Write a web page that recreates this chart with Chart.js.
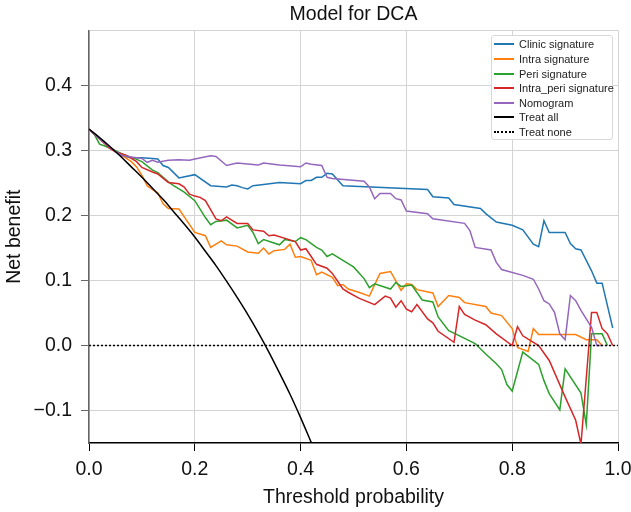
<!DOCTYPE html>
<html>
<head>
<meta charset="utf-8">
<script src="https://cdn.jsdelivr.net/npm/chart.js@4.4.0/dist/chart.umd.min.js"></script>
<style>
  html, body { margin: 0; padding: 0; background: #fff; }
  #wrap { position: relative; width: 631px; height: 512px; }
  #legend {
    position: absolute; left: 491px; top: 35px; width: 122px; height: 105px;
    box-sizing: border-box; border: 1px solid #d8d8d8; border-radius: 3px;
    background: #fff; font: 11px "Liberation Sans", Arial, sans-serif; color: #222;
  }
  .row { position: absolute; left: 0; height: 14px; line-height: 14px; white-space: nowrap; }
  .swatch { position: absolute; left: 2px; top: 6px; width: 20px; height: 0; border-top: 2px solid #000; }
  .label { position: absolute; left: 27px; top: 0; }
</style>
</head>
<body>
<div id="wrap">
  <canvas id="chart" width="631" height="512"></canvas>
  <div id="legend"></div>
</div>
<script>
// 閾値と正味便益 [threshold, net benefit]
const clinic = [[0,0.333],[0.02,0.318],[0.04,0.304],[0.06,0.292],[0.08,0.289],[0.10,0.289],[0.12,0.288],[0.13,0.287],[0.14,0.277],[0.15,0.274],[0.17,0.258],[0.20,0.263],[0.23,0.246],[0.26,0.244],[0.27,0.247],[0.28,0.246],[0.29,0.243],[0.30,0.241],[0.31,0.246],[0.33,0.248],[0.36,0.251],[0.40,0.249],[0.41,0.254],[0.42,0.254],[0.43,0.259],[0.44,0.259],[0.45,0.265],[0.46,0.264],[0.48,0.246],[0.64,0.240],[0.65,0.229],[0.68,0.227],[0.69,0.217],[0.74,0.211],[0.75,0.203],[0.77,0.190],[0.80,0.185],[0.82,0.178],[0.84,0.156],[0.85,0.152],[0.86,0.192],[0.87,0.174],[0.90,0.174],[0.91,0.157],[0.92,0.149],[0.93,0.147],[0.95,0.115],[0.96,0.096],[0.97,0.096],[0.99,0.027]];
const intra = [[0,0.333],[0.02,0.318],[0.04,0.305],[0.06,0.294],[0.08,0.283],[0.09,0.275],[0.10,0.262],[0.11,0.246],[0.12,0.240],[0.13,0.235],[0.14,0.218],[0.15,0.211],[0.17,0.210],[0.19,0.186],[0.20,0.174],[0.22,0.169],[0.23,0.151],[0.25,0.161],[0.26,0.155],[0.28,0.153],[0.30,0.144],[0.32,0.142],[0.33,0.150],[0.34,0.141],[0.35,0.146],[0.37,0.148],[0.38,0.156],[0.39,0.136],[0.40,0.137],[0.42,0.131],[0.43,0.109],[0.44,0.113],[0.46,0.105],[0.47,0.092],[0.48,0.094],[0.49,0.087],[0.51,0.082],[0.53,0.076],[0.55,0.111],[0.57,0.114],[0.59,0.085],[0.60,0.095],[0.61,0.094],[0.62,0.086],[0.65,0.081],[0.66,0.060],[0.68,0.077],[0.70,0.074],[0.71,0.066],[0.75,0.060],[0.76,0.050],[0.78,0.046],[0.80,0.026],[0.81,-0.003],[0.83,-0.009],[0.84,0.026],[0.85,0.017],[0.92,0.017],[0.94,0.009],[0.96,0.009],[0.97,0]];
const peri = [[0,0.333],[0.01,0.325],[0.02,0.310],[0.03,0.307],[0.05,0.300],[0.07,0.292],[0.08,0.290],[0.10,0.283],[0.12,0.270],[0.13,0.266],[0.15,0.252],[0.16,0.246],[0.18,0.236],[0.20,0.223],[0.21,0.210],[0.22,0.197],[0.23,0.186],[0.24,0.191],[0.26,0.193],[0.28,0.181],[0.30,0.185],[0.31,0.174],[0.32,0.157],[0.33,0.163],[0.36,0.155],[0.37,0.163],[0.39,0.160],[0.40,0.166],[0.41,0.163],[0.43,0.151],[0.44,0.147],[0.45,0.137],[0.46,0.141],[0.47,0.136],[0.49,0.126],[0.50,0.121],[0.52,0.103],[0.53,0.089],[0.54,0.095],[0.57,0.087],[0.58,0.097],[0.59,0.091],[0.61,0.093],[0.63,0.070],[0.65,0.067],[0.66,0.044],[0.68,0.023],[0.69,0.019],[0.73,0.003],[0.75,-0.013],[0.77,-0.028],[0.78,-0.037],[0.79,-0.060],[0.80,-0.070],[0.82,-0.010],[0.85,-0.029],[0.86,-0.054],[0.87,-0.074],[0.89,-0.099],[0.90,-0.036],[0.93,-0.073],[0.94,-0.122],[0.95,0.018],[0.97,0.018],[0.98,0]];
const intraPeri = [[0,0.333],[0.02,0.318],[0.04,0.303],[0.05,0.298],[0.07,0.293],[0.08,0.288],[0.09,0.283],[0.10,0.274],[0.12,0.267],[0.13,0.264],[0.15,0.251],[0.17,0.249],[0.18,0.244],[0.19,0.233],[0.20,0.230],[0.21,0.228],[0.22,0.223],[0.24,0.195],[0.25,0.192],[0.26,0.198],[0.28,0.188],[0.30,0.188],[0.31,0.178],[0.33,0.176],[0.34,0.169],[0.35,0.170],[0.39,0.160],[0.40,0.147],[0.41,0.149],[0.42,0.137],[0.43,0.125],[0.45,0.119],[0.46,0.111],[0.47,0.099],[0.48,0.087],[0.49,0.082],[0.51,0.073],[0.54,0.063],[0.56,0.076],[0.57,0.073],[0.58,0.059],[0.59,0.069],[0.60,0.056],[0.61,0.052],[0.62,0.063],[0.64,0.041],[0.65,0.035],[0.66,0.022],[0.69,0.005],[0.70,0.060],[0.71,0.048],[0.73,0.039],[0.75,0.032],[0.77,0.018],[0.80,0],[0.81,0.029],[0.82,0.015],[0.85,0],[0.87,-0.023],[0.90,-0.079],[0.92,-0.115],[0.93,-0.152],[0.95,0.051],[0.96,0.051],[0.97,0.026],[0.98,0.018],[0.99,0]];
const nomogram = [[0,0.333],[0.02,0.318],[0.04,0.305],[0.06,0.293],[0.08,0.290],[0.10,0.288],[0.11,0.282],[0.12,0.285],[0.13,0.282],[0.15,0.285],[0.17,0.286],[0.19,0.285],[0.20,0.287],[0.23,0.292],[0.24,0.291],[0.26,0.277],[0.28,0.281],[0.32,0.278],[0.33,0.281],[0.36,0.278],[0.40,0.275],[0.41,0.281],[0.42,0.279],[0.44,0.277],[0.45,0.259],[0.46,0.257],[0.52,0.253],[0.53,0.244],[0.54,0.226],[0.55,0.234],[0.57,0.234],[0.58,0.226],[0.59,0.224],[0.60,0.207],[0.64,0.203],[0.65,0.195],[0.71,0.188],[0.72,0.177],[0.73,0.151],[0.76,0.147],[0.77,0.128],[0.78,0.117],[0.82,0.108],[0.84,0.102],[0.85,0.087],[0.86,0.069],[0.87,0.064],[0.88,0.051],[0.89,0.018],[0.90,0.009],[0.91,0.077],[0.92,0.069],[0.93,0.054],[0.94,0.041],[0.95,0.028],[0.96,0],[0.97,0]];
const treatAll = [[0,0.333],[0.02,0.320],[0.04,0.306],[0.06,0.291],[0.08,0.275],[0.10,0.259],[0.12,0.242],[0.14,0.225],[0.16,0.206],[0.18,0.187],[0.20,0.167],[0.22,0.145],[0.24,0.123],[0.26,0.099],[0.28,0.074],[0.30,0.048],[0.32,0.020],[0.34,-0.010],[0.36,-0.042],[0.38,-0.075],[0.40,-0.111],[0.42,-0.149]];
const treatNone = [[0,0],[1,0]];

const seriesNames = ['Clinic signature', 'Intra signature', 'Peri signature', 'Intra_peri signature', 'Nomogram', 'Treat all', 'Treat none'];
const seriesData = [clinic, intra, peri, intraPeri, nomogram, treatAll, treatNone];
const seriesColors = ['#1f77b4', '#ff7f0e', '#2ca02c', '#d62728', '#9467bd', '#000000', '#000000'];

const xTicks = [0, 0.2, 0.4, 0.6, 0.8, 1.0];
const yTicks = [-0.1, 0, 0.1, 0.2, 0.3, 0.4];
const X_MAX = 1.0;
const Y_MIN = -0.15;
const Y_MAX = 0.485;

const FONT = '"Liberation Sans", Arial, Helvetica, sans-serif';
const font = { family: FONT, size: 19.5, weight: 'normal' };

// データセット（後のものほど上に描く）
const datasets = seriesData.map((pts, i) => ({
  label: seriesNames[i],
  data: pts.map(p => ({ x: p[0], y: p[1] })),
  borderColor: seriesColors[i],
  borderWidth: 1.5,
  borderDash: seriesNames[i] === 'Treat none' ? [2, 2] : [],
  pointRadius: 0,
  tension: 0,
  cubicInterpolationMode: seriesNames[i] === 'Treat all' ? 'monotone' : 'default',
  fill: false,
  order: seriesData.length - i
}));

new Chart(document.getElementById('chart'), {
  type: 'line',
  data: { datasets },
  options: {
    responsive: false,
    animation: false,
    devicePixelRatio: 1,
    layout: { padding: { left: 0, right: 0, top: 0, bottom: 0 } },
    plugins: {
      legend: { display: false },
      tooltip: { enabled: false },
      title: {
        display: true, text: 'Model for DCA', fullSize: false, color: '#111',
        font: font, padding: { top: 3, bottom: 4 }
      }
    },
    scales: {
      x: {
        type: 'linear', min: 0, max: X_MAX,
        afterBuildTicks: s => { s.ticks = xTicks.map(v => ({ value: v })); },
        afterFit: s => { s.height = 69; s.paddingRight = 13; },
        ticks: { color: '#111', font: font, padding: 7, maxRotation: 0, callback: v => v.toFixed(1) },
        grid: { color: '#d4d4d4', lineWidth: 1, tickColor: '#000', tickLength: 8 },
        border: { color: '#000', width: 1.5 },
        title: { display: true, text: 'Threshold probability', color: '#111', font: font, padding: { top: 0, bottom: 3 } }
      },
      y: {
        type: 'linear', min: Y_MIN, max: Y_MAX,
        // 上端にも薄い線を引くため最大値を目盛りに加える
        afterBuildTicks: s => { s.ticks = yTicks.concat([Y_MAX]).map(v => ({ value: v })); },
        afterFit: s => { s.width = 89; },
        ticks: {
          color: '#111', font: font, padding: 9,
          callback: v => v === Y_MAX ? '' : (v < 0 ? '\u2212' : '') + Math.abs(v).toFixed(1)
        },
        grid: {
          color: '#d4d4d4', lineWidth: 1, tickLength: 8,
          tickColor: ctx => ctx.tick && ctx.tick.value === Y_MAX ? 'rgba(0,0,0,0)' : '#666'
        },
        border: { color: '#666', width: 1.5 },
        title: { display: true, text: 'Net benefit', color: '#111', font: font, padding: { top: 3, bottom: 0 } }
      }
    }
  }
});

// 凡例（右上の枠）
const legend = document.getElementById('legend');
seriesNames.forEach((name, i) => {
  const row = document.createElement('div');
  row.className = 'row';
  row.style.top = (1.3 + i * 14.6) + 'px';
  const sw = document.createElement('span');
  sw.className = 'swatch';
  sw.style.borderTopColor = seriesColors[i];
  if (name === 'Treat none') sw.style.borderTopStyle = 'dotted';
  const lb = document.createElement('span');
  lb.className = 'label';
  lb.textContent = name;
  row.appendChild(sw);
  row.appendChild(lb);
  legend.appendChild(row);
});
</script>
</body>
</html>
